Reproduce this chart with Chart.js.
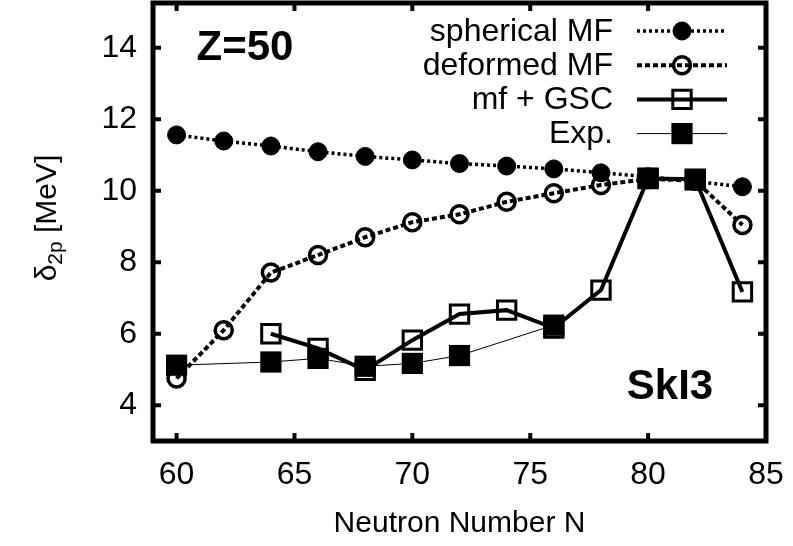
<!DOCTYPE html>
<html>
<head>
<meta charset="utf-8">
<script src="https://cdn.jsdelivr.net/npm/chart.js@4.4.1/dist/chart.umd.min.js"></script>
<style>
  html, body { margin: 0; padding: 0; background: #fff; }
  canvas { display: block; }
</style>
</head>
<body>
<canvas id="chart" width="793" height="546"></canvas>
<script>
// two-proton shell gap for Z=50, SkI3
const neutronN = [60, 62, 64, 66, 68, 70, 72, 74, 76, 78, 80, 82, 84]
const sphericalMF = [11.56, 11.39, 11.25, 11.09, 10.96, 10.86, 10.76, 10.69, 10.61, 10.5, 10.39, 10.26, 10.11]
const deformedMF = [4.75, 6.1, 7.71, 8.2, 8.7, 9.12, 9.34, 9.69, 9.93, 10.16, 10.33, 10.28, 9.04]
const gscN = [64, 66, 68, 70, 72, 74, 76, 78, 80, 82, 84]
const gscValues = [6.0, 5.59, 4.98, 5.82, 6.55, 6.66, 6.16, 7.22, 10.34, 10.32, 7.17]
const expN = [60, 64, 66, 68, 70, 72, 76, 78, 80, 82]
const expValues = [5.12, 5.21, 5.31, 5.09, 5.17, 5.39, 6.24, null, 10.35, 10.3]
const xTicks = [60, 65, 70, 75, 80, 85]
const yTicks = [4, 6, 8, 10, 12, 14]
const seriesNames = ["spherical MF", "deformed MF", "mf + GSC", "Exp."]

const FONT = '"Liberation Sans", Arial, Helvetica, sans-serif'

function toPoints(xs, ys) {
  return xs.map((x, i) => ({ x: x, y: ys[i] }))
}

// no extra room for the end labels, the frame is placed by hand
function noPadding(axis) {
  axis.paddingTop = 0
  axis.paddingBottom = 0
  axis.paddingLeft = 0
  axis.paddingRight = 0
}

// gnuplot-like frame with inward ticks on all four sides
const framePlugin = {
  id: "frame",
  beforeDatasetsDraw(chart) {
    const { ctx, chartArea, scales } = chart
    const len = 8
    ctx.save()
    ctx.strokeStyle = "#000"
    ctx.lineWidth = 4
    ctx.beginPath()
    xTicks.forEach((v) => {
      const px = scales.x.getPixelForValue(v)
      ctx.moveTo(px, chartArea.bottom)
      ctx.lineTo(px, chartArea.bottom - len)
      ctx.moveTo(px, chartArea.top)
      ctx.lineTo(px, chartArea.top + len)
    })
    yTicks.forEach((v) => {
      const py = scales.y.getPixelForValue(v)
      ctx.moveTo(chartArea.left, py)
      ctx.lineTo(chartArea.left + len, py)
      ctx.moveTo(chartArea.right, py)
      ctx.lineTo(chartArea.right - len, py)
    })
    ctx.stroke()
    ctx.lineWidth = 5
    ctx.strokeRect(chartArea.left, chartArea.top, chartArea.right - chartArea.left, chartArea.bottom - chartArea.top)
    ctx.restore()
  },
}

// legend (text left of sample), panel labels and y title with subscript
const annotatePlugin = {
  id: "annotate",
  afterDraw(chart) {
    const { ctx } = chart
    ctx.save()
    ctx.fillStyle = "#000"

    const textRight = 613
    const lineX0 = 637
    const lineX1 = 727
    const markX = 682
    chart.data.datasets.forEach((ds, i) => {
      const rowY = 31 + i * 34.2
      ctx.font = "32px " + FONT
      ctx.textAlign = "right"
      ctx.textBaseline = "middle"
      ctx.fillStyle = "#000"
      ctx.fillText(seriesNames[i], textRight, rowY + 1)

      ctx.save()
      ctx.strokeStyle = ds.borderColor
      ctx.lineWidth = ds.borderWidth
      ctx.setLineDash(ds.borderDash || [])
      ctx.beginPath()
      ctx.moveTo(lineX0, rowY)
      ctx.lineTo(lineX1, rowY)
      ctx.stroke()
      ctx.restore()

      ctx.save()
      ctx.fillStyle = ds.pointBackgroundColor
      ctx.strokeStyle = ds.pointBorderColor
      ctx.lineWidth = ds.pointBorderWidth
      Chart.helpers.drawPoint(ctx, {
        pointStyle: ds.pointStyle,
        radius: ds.pointRadius,
        rotation: 0,
        borderWidth: ds.pointBorderWidth,
      }, markX, rowY)
      ctx.restore()
    })

    ctx.font = "bold 42px " + FONT
    ctx.textAlign = "center"
    ctx.textBaseline = "middle"
    ctx.fillText("Z=50", 245, 48)
    ctx.fillText("SkI3", 670, 387)

    // y axis title: δ_2p [MeV]
    ctx.translate(48, 218)
    ctx.rotate(-Math.PI / 2)
    ctx.textAlign = "left"
    ctx.textBaseline = "middle"
    const big = "30px " + FONT
    const small = "21px " + FONT
    ctx.font = big
    const wD = ctx.measureText("\u03b4").width
    ctx.font = small
    const wS = ctx.measureText("2p").width
    ctx.font = big
    const wU = ctx.measureText(" [MeV]").width
    let x = -(wD + wS + wU) / 2
    ctx.font = big
    ctx.fillText("\u03b4", x, 0)
    x += wD
    ctx.font = small
    ctx.fillText("2p", x, 8)
    x += wS
    ctx.font = big
    ctx.fillText(" [MeV]", x, 0)
    ctx.restore()
  },
}

const ctx = document.getElementById("chart").getContext("2d")

new Chart(ctx, {
  type: "line",
  data: {
    datasets: [
      {
        label: seriesNames[0],
        data: toPoints(neutronN, sphericalMF),
        borderColor: "#000",
        borderWidth: 3.5,
        borderDash: [3, 3],
        pointStyle: "circle",
        pointRadius: 9,
        pointBackgroundColor: "#000",
        pointBorderColor: "#000",
        pointBorderWidth: 1,
        order: 4,
      },
      {
        label: seriesNames[1],
        data: toPoints(neutronN, deformedMF),
        borderColor: "#000",
        borderWidth: 4,
        borderDash: [5, 3],
        pointStyle: "circle",
        pointRadius: 8.5,
        pointBackgroundColor: "rgba(255,255,255,0)",
        pointBorderColor: "#000",
        pointBorderWidth: 3.5,
        order: 3,
      },
      {
        label: seriesNames[2],
        data: toPoints(gscN, gscValues),
        borderColor: "#000",
        borderWidth: 4,
        pointStyle: "rect",
        pointRadius: 13,
        pointBackgroundColor: "rgba(255,255,255,0)",
        pointBorderColor: "#000",
        pointBorderWidth: 3,
        order: 2,
      },
      {
        label: seriesNames[3],
        data: toPoints(expN, expValues),
        borderColor: "#000",
        borderWidth: 1,
        pointStyle: "rect",
        pointRadius: 15,
        pointBackgroundColor: "#000",
        pointBorderColor: "#000",
        pointBorderWidth: 0,
        spanGaps: false,
        order: 1,
      },
    ],
  },
  options: {
    responsive: false,
    animation: false,
    devicePixelRatio: 1,
    clip: false,
    layout: { autoPadding: false, padding: { top: 3, right: 27, left: 0, bottom: 0 } },
    plugins: {
      legend: { display: false },
      tooltip: { enabled: false },
    },
    elements: { line: { tension: 0 } },
    scales: {
      x: {
        type: "linear",
        min: 59,
        max: 85,
        afterBuildTicks: (axis) => {
          axis.ticks = xTicks.map((v) => ({ value: v }))
        },
        afterFit: (axis) => {
          axis.height = 105
          noPadding(axis)
        },
        grid: { display: false, drawTicks: false },
        border: { display: false },
        ticks: {
          color: "#000",
          padding: 15,
          maxRotation: 0,
          font: { family: FONT, size: 32 },
        },
        title: {
          display: true,
          text: "Neutron Number N",
          color: "#000",
          padding: { top: 0, bottom: 4 },
          font: { family: FONT, size: 30 },
        },
      },
      y: {
        type: "linear",
        min: 3,
        max: 15.25,
        afterBuildTicks: (axis) => {
          axis.ticks = yTicks.map((v) => ({ value: v }))
        },
        afterFit: (axis) => {
          axis.width = 153
          noPadding(axis)
        },
        grid: { display: false, drawTicks: false },
        border: { display: false },
        ticks: {
          color: "#000",
          padding: 16,
          font: { family: FONT, size: 32 },
        },
      },
    },
  },
  plugins: [framePlugin, annotatePlugin],
})
</script>
</body>
</html>
